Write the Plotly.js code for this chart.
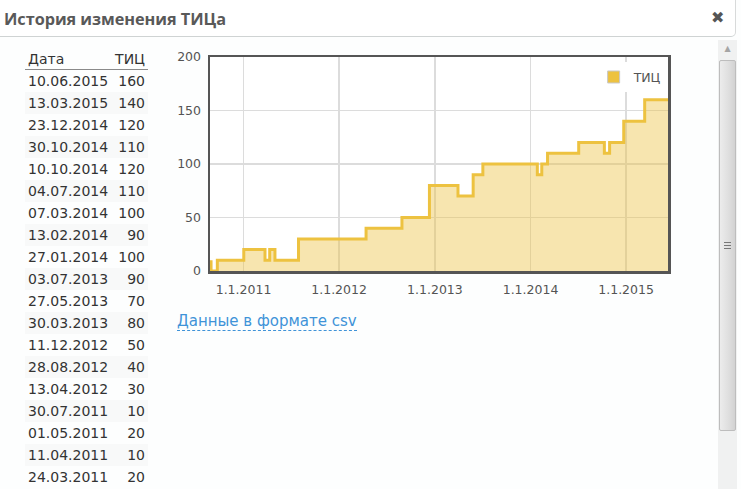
<!DOCTYPE html>
<html>
<head>
<meta charset="utf-8">
<script src="https://cdn.plot.ly/plotly-3.0.1.min.js"></script>
<style>
  html, body { margin:0; padding:0; width:741px; height:489px; overflow:hidden; background:#fdfefe; }
  body { position:relative; font-family:"DejaVu Sans", Verdana, sans-serif; }
  #titlebar { position:absolute; left:0; top:0; width:735px; height:36px; border-bottom:1px solid #cfd3d3;
    border-right:1px solid #d8dada; border-bottom-right-radius:5px; background:#ffffff; }
  #title { position:absolute; left:4px; top:8px; font-family:"Open Sans", sans-serif; font-weight:700; font-size:16.3px;
    color:#595959; white-space:nowrap; letter-spacing:-0.05px; }
  #close { position:absolute; left:711px; top:8px; font-size:16px; color:#555; font-weight:bold; }
  #tbl { position:absolute; left:25px; top:49px; width:123px; border-collapse:collapse; font-size:14px; color:#333; }
  #tbl th { font-weight:normal; height:20px; padding:0 3px; border-bottom:1px solid #8a8a8a; vertical-align:middle; color:#333; }
  #tbl td { height:22px; padding:0 3px; vertical-align:middle; white-space:nowrap; }
  #tbl tr:nth-child(odd) td { background:#f8f9f9; }
  #tbl .l { text-align:left; }
  #tbl .r { text-align:right; }
  #chart { position:absolute; left:160px; top:40px; width:520px; height:275px; }
  #csv { position:absolute; left:177px; top:312px; font-size:15px; color:#3f93d8; border-bottom:1px dashed #3f93d8; line-height:18px; }
  #track { position:absolute; left:718px; top:40px; width:19px; height:449px; background:#f0f1f1; }
  #up { position:absolute; left:0; top:4px; width:19px; text-align:center; font-size:8px; color:#a5a5a5; }
  #thumb { position:absolute; left:1px; top:20px; width:15px; height:369px; border:1px solid #bdbdbd; border-radius:2px;
    background:linear-gradient(to right, #ececec, #dedede 60%, #d2d2d2); }
  .grip { position:absolute; left:4px; width:7px; height:1px; background:#777; }
</style>
</head>
<body>
<div id="titlebar">
  <div id="title">История изменения ТИЦа</div>
  <div id="close">✖</div>
</div>
<table id="tbl"></table>
<div id="chart"></div>
<div id="csv">Данные в формате csv</div>
<div id="track">
  <div id="up">▲</div>
  <div id="thumb">
    <div class="grip" style="top:181px"></div>
    <div class="grip" style="top:184px"></div>
    <div class="grip" style="top:187px"></div>
  </div>
</div>
<script>
// Table data (newest first); the last three rows are below the visible window and estimated from the chart
const dates = ["10.06.2015","13.03.2015","23.12.2014","30.10.2014","10.10.2014","04.07.2014","07.03.2014",
  "13.02.2014","27.01.2014","03.07.2013","27.05.2013","30.03.2013","11.12.2012","28.08.2012","13.04.2012",
  "30.07.2011","01.05.2011","11.04.2011","24.03.2011","02.01.2011","23.09.2010","30.08.2010"];
const tic = [160,140,120,110,120,110,100,90,100,90,70,80,50,40,30,10,20,10,20,10,0,10];
const headers = ["Дата","ТИЦ"];
const seriesName = "ТИЦ";
const visibleRows = 19;
const xTickVals = ["2011-01-01","2012-01-01","2013-01-01","2014-01-01","2015-01-01"];
const xTickText = ["1.1.2011","1.1.2012","1.1.2013","1.1.2014","1.1.2015"];
const yTickVals = [0,50,100,150,200];
const yTickText = ["0","50","100","150","200"];

// build table (only the rows that fit in the window)
const tbl = document.getElementById("tbl");
let html = '<tr><th class="l">' + headers[0] + '</th><th class="r">' + headers[1] + '</th></tr>';
for (let i = 0; i < Math.min(visibleRows, dates.length); i++) {
  html += '<tr><td class="l">' + dates[i] + '</td><td class="r">' + tic[i] + '</td></tr>';
}
tbl.innerHTML = html;

// chart data (chronological)
const toIso = d => { const p = d.split("."); return p[2] + "-" + p[1] + "-" + p[0]; };
const xs = dates.map(toIso).reverse();
const ys = tic.slice().reverse();

const traces = [
  { x: xs, y: ys, type: "scatter", mode: "lines", name: seriesName, showlegend: false,
    line: { shape: "vh", color: "#edc240", width: 3 },
    fill: "tozeroy", fillcolor: "rgba(237,194,64,0.42)", hoverinfo: "x+y" },
  { x: [null], y: [null], type: "bar", name: seriesName, showlegend: true,
    marker: { color: "#edc240", line: { color: "#c8c8c8", width: 1 } } }
];

const axFont = { family: "DejaVu Sans, Verdana, sans-serif", size: 12.5, color: "#545454" };
const layout = {
  width: 520, height: 275,
  margin: { l: 50, r: 12, t: 16.5, b: 43.7 },
  paper_bgcolor: "rgba(0,0,0,0)", plot_bgcolor: "#ffffff",
  xaxis: { type: "date", range: ["2010-08-26", "2015-06-10"], tickmode: "array", tickvals: xTickVals, ticktext: xTickText,
    showgrid: true, gridcolor: "#dcdcdc", gridwidth: 1.3, zeroline: false,
    showline: true, mirror: true, linecolor: "#555555", linewidth: 2.5, ticks: "", tickfont: axFont, ticklabelstandoff: 5, fixedrange: true },
  yaxis: { range: [0, 200], tickmode: "array", tickvals: yTickVals, ticktext: yTickText,
    showgrid: true, gridcolor: "#dcdcdc", gridwidth: 1.3, zeroline: false,
    showline: true, mirror: true, linecolor: "#555555", linewidth: 2.5, ticks: "", tickfont: axFont, ticklabelstandoff: 4, fixedrange: true },
  showlegend: true,
  legend: { x: 0.997, xanchor: "right", y: 0.975, yanchor: "top", bgcolor: "#ffffff", borderwidth: 0,
    font: { family: "DejaVu Sans, Verdana, sans-serif", size: 12.5, color: "#545454" }, itemwidth: 30 }
};
Plotly.newPlot("chart", traces, layout, { displayModeBar: false, staticPlot: true });
</script>
</body>
</html>
